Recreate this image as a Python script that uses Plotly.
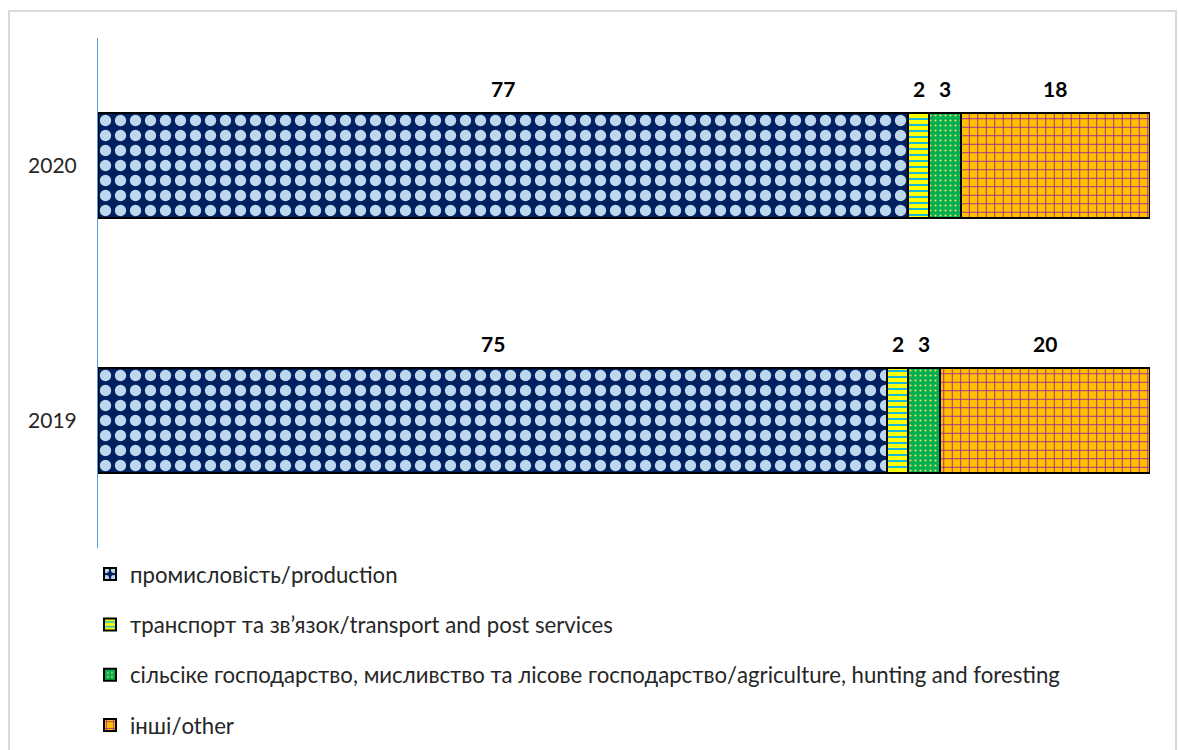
import plotly.graph_objects as go

years = ["2019", "2020"]
series_names = [
    "промисловість/production",
    "транспорт та зв’язок/transport and post services",
    "сільсіке господарство, мисливство та лісове господарство/agriculture, hunting and foresting",
    "інші/other",
]
production = [75, 77]
transport = [2, 2]
agriculture = [3, 3]
other = [20, 18]

values = [production, transport, agriculture, other]

styles = [
    dict(bg="#002060", fg="#BDD7EE", shape=".", size=15, solidity=0.45),
    dict(bg="#FFFF00", fg="#00B0F0", shape="-", size=6, solidity=0.3),
    dict(bg="#00B050", fg="#FFD966", shape=".", size=5, solidity=0.15),
    dict(bg="#FFC000", fg="#A020A0", shape="+", size=8.5, solidity=0.2),
]

FONT = "Lato"

fig = go.Figure()
for i, (name, vals, st) in enumerate(zip(series_names, values, styles)):
    fig.add_trace(go.Bar(
        y=years,
        x=vals,
        name=name,
        orientation="h",
        width=0.41,
        legendgroup=f"g{i}",
        marker=dict(
            color=st["bg"],
            line=dict(color="#000000", width=2),
            pattern=dict(shape=st["shape"], bgcolor=st["bg"], fgcolor=st["fg"],
                         size=st["size"], solidity=st["solidity"], fillmode="replace"),
        ),
        hoverinfo="x+name",
    ))

# value labels centred above each segment (y given as category index)
for yi, year in enumerate(years):
    start = 0
    for vals in values:
        v = vals[yi]
        fig.add_annotation(
            x=start + v / 2, y=yi, xref="x", yref="y",
            text=f"<b>{v}</b>", showarrow=False, yshift=77,
            font=dict(family=FONT, size=21, color="#000000"),
        )
        start += v

# outer chart frame
fig.add_shape(type="rect", xref="paper", yref="paper",
              x0=-0.0846, x1=1.0247, y0=-0.6, y1=1.053,
              line=dict(color="#D9D9D9", width=2), fillcolor="rgba(0,0,0,0)", layer="below")

fig.update_layout(
    width=1178, height=750,
    margin=dict(l=98, r=28, t=38, b=202, autoexpand=False),
    barmode="stack",
    plot_bgcolor="white",
    paper_bgcolor="white",
    font=dict(family=FONT, size=21, color="#262626"),
    xaxis=dict(range=[0, 100], visible=False, fixedrange=True),
    yaxis=dict(
        type="category", range=[-0.5, 1.5],
        showline=True, linecolor="#5B9BD5", linewidth=1,
        showgrid=False, zeroline=False,
        ticks="", ticklabelstandoff=16,
        tickfont=dict(family=FONT, size=21, color="#262626"),
    ),
    showlegend=True,
    legend=dict(
        orientation="v", x=-0.0076, xanchor="left", y=-0.01, yanchor="top",
        traceorder="grouped", tracegroupgap=18.5,
        font=dict(family=FONT, size=22.2, color="#262626"),
        bgcolor="rgba(0,0,0,0)",
    ),
)

fig.write_html("out.html")
